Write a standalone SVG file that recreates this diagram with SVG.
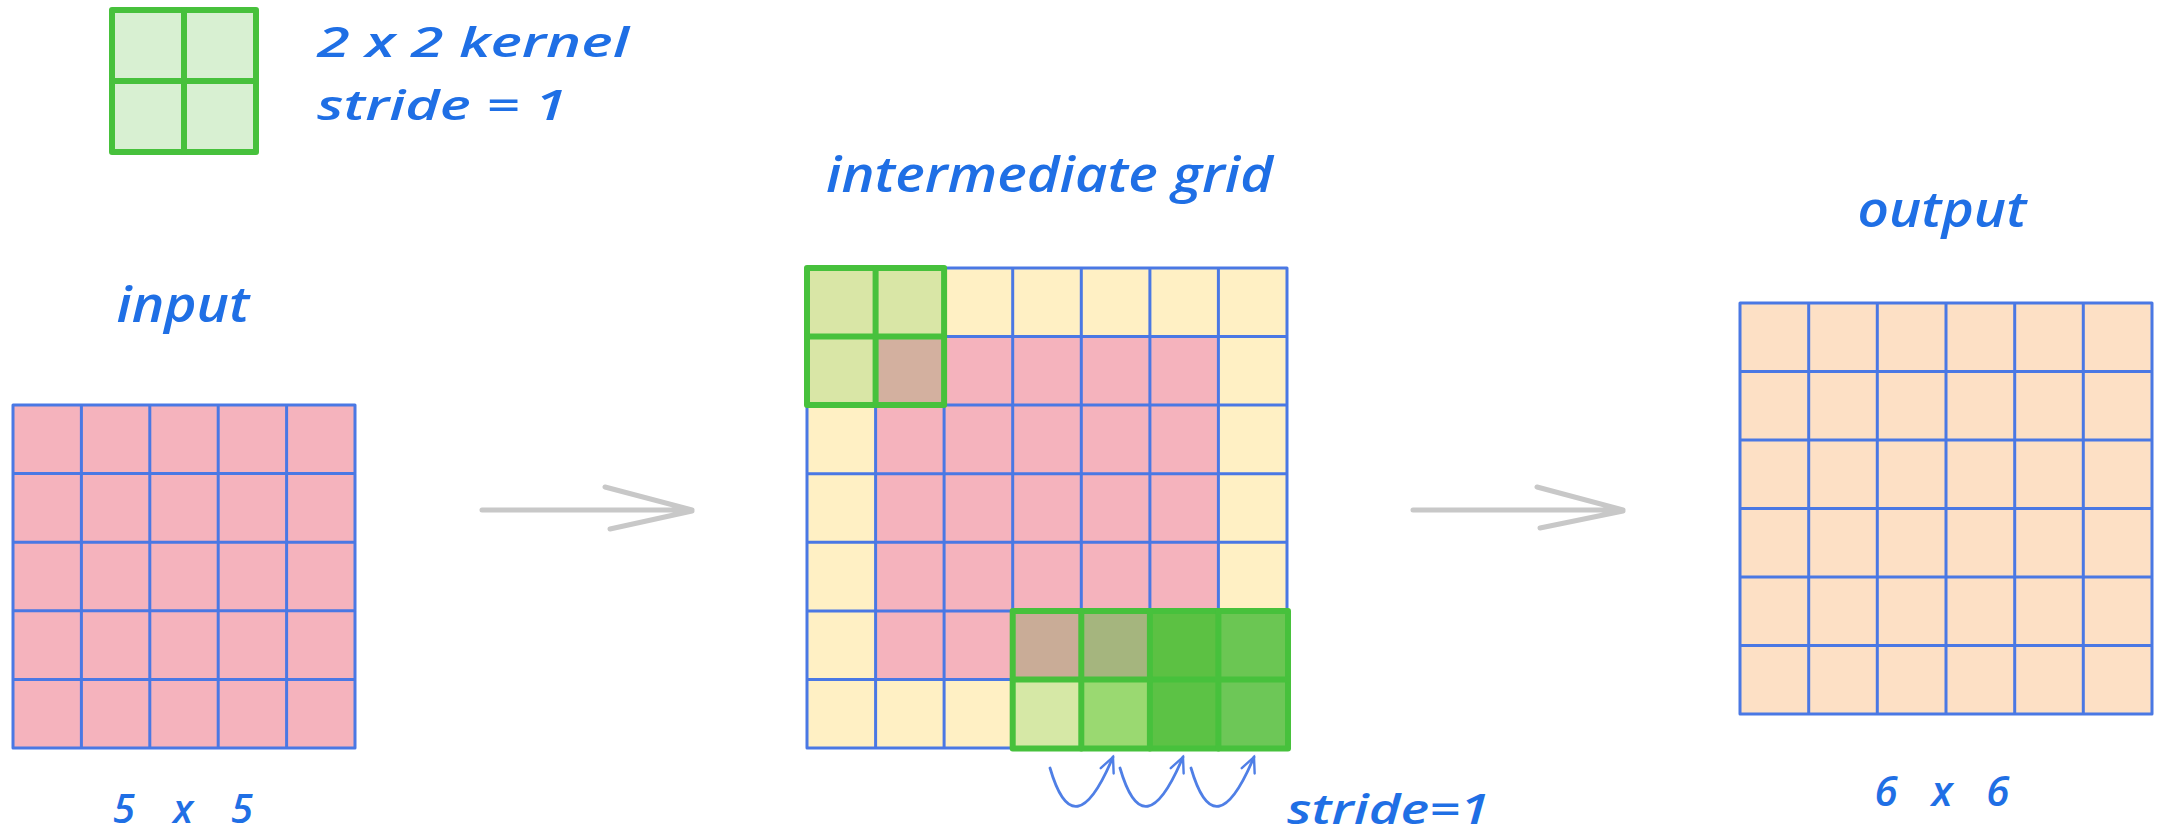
<svg xmlns="http://www.w3.org/2000/svg" width="2158" height="838" viewBox="0 0 2158 838">
  <style>
    .lbl { font-family: "Open Sans", "Liberation Sans", sans-serif; font-style: italic; font-weight: 600; fill: #1f6fe5; }
    .grid { stroke: #4a78e4; stroke-width: 3; fill: none; stroke-linecap: round; }
    .kern { stroke: #47c13c; stroke-width: 6; fill: none; stroke-linejoin: round; stroke-linecap: round; }
    .gray { stroke: #c8c8c8; stroke-width: 5; fill: none; stroke-linecap: round; }
    .stride { stroke: #4f7fe6; stroke-width: 2.8; fill: none; stroke-linecap: round; }
  </style>
  <defs>
    <marker id="openhead" markerWidth="20" markerHeight="20" refX="17" refY="10" orient="auto" markerUnits="userSpaceOnUse">
      <path d="M2,3 L17,10 L2,17" fill="none" stroke="#4f7fe6" stroke-width="2.4" stroke-linecap="round"/>
    </marker>
  </defs>
  <rect width="2158" height="838" fill="#ffffff"/>

  <!-- legend kernel -->
  <g id="legend-kernel">
    <rect x="112" y="10" width="144" height="142" fill="#d8f0d2"/>
    <rect class="kern" x="112" y="10" width="144" height="142"/>
    <line class="kern" x1="184" y1="10" x2="184" y2="152"/>
    <line class="kern" x1="112" y1="81" x2="256" y2="81"/>
  </g>
  <g id="legend-text">
    <text class="lbl" x="317" y="57" font-size="42" textLength="312" lengthAdjust="spacingAndGlyphs">2 x 2 kernel</text>
    <text class="lbl" x="317" y="120" font-size="42" textLength="250" lengthAdjust="spacingAndGlyphs">stride = 1</text>
  </g>

  <!-- input grid 5x5 -->
  <g id="input-grid">
    <rect x="13" y="405" width="342" height="343" fill="#f5b3bd"/>
    <path class="grid" d="M13,405 V748 M81.4,405 V748 M149.8,405 V748 M218.2,405 V748 M286.6,405 V748 M355,405 V748
      M13,405 H355 M13,473.6 H355 M13,542.2 H355 M13,610.8 H355 M13,679.4 H355 M13,748 H355"/>
  </g>
  <g id="input-labels">
    <text class="lbl" x="183" y="322" font-size="48" text-anchor="middle" textLength="133" lengthAdjust="spacingAndGlyphs">input</text>
    <text class="lbl" x="183" y="823" font-size="40" text-anchor="middle" textLength="140" lengthAdjust="spacing">5 x 5</text>
  </g>

  <!-- intermediate grid 7x7 -->
  <g id="intermediate-grid">
    <rect x="807" y="268" width="480" height="480" fill="#fff0c4"/>
    <rect x="875.6" y="336.6" width="342.8" height="342.8" fill="#f5b3bd"/>
    <!-- top-left kernel cells -->
    <rect x="807" y="268" width="137.1" height="68.6" fill="#d9e6a6"/>
    <rect x="807" y="336.6" width="68.6" height="68.5" fill="#d9e6a6"/>
    <rect x="875.6" y="336.6" width="68.5" height="68.5" fill="#d3b09f"/>
    <!-- bottom-right overlapping kernel cells -->
    <rect x="1012.7" y="610.9" width="68.6" height="68.5" fill="#c9ac97"/>
    <rect x="1081.3" y="610.9" width="68.6" height="68.5" fill="#a5b57e"/>
    <rect x="1149.9" y="610.9" width="68.5" height="68.5" fill="#5cc143"/>
    <rect x="1218.4" y="610.9" width="68.6" height="68.5" fill="#6bc653"/>
    <rect x="1012.7" y="679.4" width="68.6" height="68.6" fill="#d6e8a6"/>
    <rect x="1081.3" y="679.4" width="68.6" height="68.6" fill="#9ad971"/>
    <rect x="1149.9" y="679.4" width="68.5" height="68.6" fill="#5cc245"/>
    <rect x="1218.4" y="679.4" width="68.6" height="68.6" fill="#6dc757"/>
    <path class="grid" d="M807,268 V748 M875.6,268 V748 M944.1,268 V748 M1012.7,268 V748 M1081.3,268 V748 M1149.9,268 V748 M1218.4,268 V748 M1287,268 V748
      M807,268 H1287 M807,336.6 H1287 M807,405.1 H1287 M807,473.7 H1287 M807,542.3 H1287 M807,610.9 H1287 M807,679.4 H1287 M807,748 H1287"/>
    <!-- kernel outlines -->
    <rect class="kern" x="807" y="268" width="137.1" height="137.1"/>
    <path class="kern" d="M875.6,268 V405.1 M807,336.6 H944.1"/>
    <rect class="kern" x="1012.7" y="610.9" width="275.3" height="137.6"/>
    <path class="kern" d="M1081.3,610.9 V748.5 M1149.9,610.9 V748.5 M1218.4,610.9 V748.5 M1012.7,679.4 H1288"/>
  </g>
  <g id="intermediate-labels">
    <text class="lbl" x="1049.5" y="192" font-size="48" text-anchor="middle" textLength="447" lengthAdjust="spacingAndGlyphs">intermediate grid</text>
    <text class="lbl" x="1287" y="824" font-size="42" textLength="203" lengthAdjust="spacingAndGlyphs">stride=1</text>
  </g>

  <!-- output grid 6x6 -->
  <g id="output-grid">
    <rect x="1740" y="303" width="412" height="411" fill="#fde0c5"/>
    <path class="grid" d="M1740,303 V714 M1808.7,303 V714 M1877.3,303 V714 M1946,303 V714 M2014.7,303 V714 M2083.3,303 V714 M2152,303 V714
      M1740,303 H2152 M1740,371.5 H2152 M1740,440 H2152 M1740,508.5 H2152 M1740,577 H2152 M1740,645.5 H2152 M1740,714 H2152"/>
  </g>
  <g id="output-labels">
    <text class="lbl" x="1942" y="227" font-size="48" text-anchor="middle" textLength="169" lengthAdjust="spacingAndGlyphs">output</text>
    <text class="lbl" x="1942" y="806" font-size="42" text-anchor="middle" textLength="135" lengthAdjust="spacing">6 x 6</text>
  </g>

  <!-- connectors -->
  <g id="connectors">
    <path class="gray" d="M482,510 L692,510 M605,487 L692,510 M610,529 L692,511"/>
    <path class="gray" d="M1413,510 L1623,510 M1537,487 L1623,510 M1540,528 L1623,511"/>
    <path class="stride" d="M1050,768 Q1074,850 1113,757" marker-end="url(#openhead)"/>
    <path class="stride" d="M1120,768 Q1144,850 1183,757" marker-end="url(#openhead)"/>
    <path class="stride" d="M1191,768 Q1215,850 1254,757" marker-end="url(#openhead)"/>
  </g>
</svg>
